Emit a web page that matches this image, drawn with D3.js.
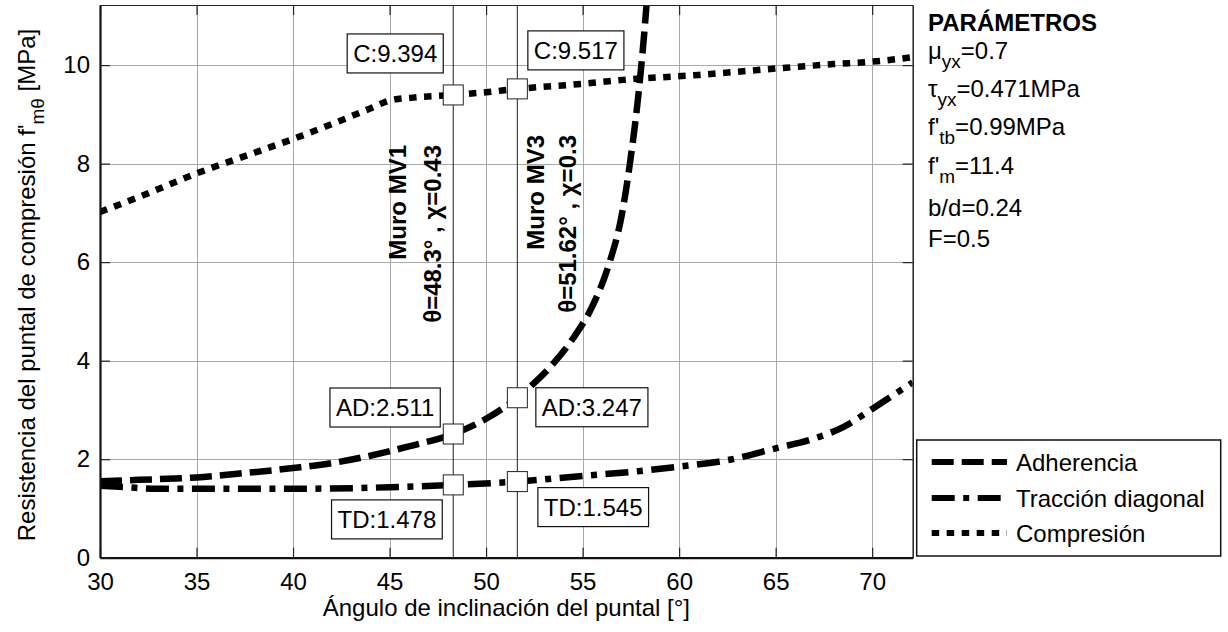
<!DOCTYPE html>
<html><head><meta charset="utf-8">
<script src="https://cdn.jsdelivr.net/npm/d3@7"></script>
<style>
body{margin:0;background:#fff}
text{font-family:"Liberation Sans",Arial,Helvetica,sans-serif;fill:#000}
</style>
</head><body>
<svg id="c" width="1228" height="632"></svg>
<script>
// ---------- data ----------
const xTicks=[30,35,40,45,50,55,60,65,70];
const yTicks=[0,2,4,6,8,10];
const xDomain=[30,72.1];
const yDomain=[0,11.22];

const angAdh=[30,32,35,37,40,42,44,46,48.3,50,51.62,52.5,53.5,54.5,55.5,56.4,57,57.45,57.97,58.31,58.45];
const valAdh=[1.55,1.58,1.63,1.7,1.82,1.92,2.07,2.26,2.511,2.82,3.247,3.55,3.95,4.45,5.1,6.0,6.9,8.0,9.7,11.22,12.0];

const angTD=[30,31,33,35,40,45,48.3,51.62,55,58,60,62.5,65,67,68.5,70,72.1];
const valTD=[1.46,1.44,1.4,1.4,1.4,1.43,1.478,1.545,1.66,1.76,1.85,1.98,2.22,2.42,2.65,3.02,3.56];

const angC=[30,32,35,38,40,42,44,45,46.2,48.3,50,51.62,55,57.1,61,65,68,70,72.1];
const valC=[7.02,7.32,7.8,8.22,8.5,8.8,9.12,9.28,9.34,9.394,9.45,9.517,9.62,9.70,9.80,9.93,10.02,10.07,10.16];

const seriesNames=["Adherencia","Tracción diagonal","Compresión"];

const wallAngles=[48.3,51.62];
const wallNames=["Muro MV1","Muro MV3"];
const wallInfo=["θ=48.3° , χ=0.43","θ=51.62° , χ=0.3"];

const tipAngles=[48.3,51.62,48.3,51.62,48.3,51.62];
const tipValues=[9.394,9.517,2.511,3.247,1.478,1.545];
const tipPrefix=["C","C","AD","AD","TD","TD"];

const paramTitle="PARÁMETROS";
const paramMain=["μ","τ","f'","f'","b/d","F"];
const paramSub=["yx","yx","tb","m","",""];
const paramVal=["=0.7","=0.471MPa","=0.99MPa","=11.4","=0.24","=0.5"];

// ---------- layout ----------
const M={l:100,r:912.7,t:5,b:557.7};
const FS=24;
const svg=d3.select("#c");
const x=d3.scaleLinear().domain(xDomain).range([M.l,M.r]);
const y=d3.scaleLinear().domain(yDomain).range([M.b,M.t]);

svg.append("defs").append("clipPath").attr("id","clip")
  .append("rect").attr("x",M.l).attr("y",M.t).attr("width",M.r-M.l).attr("height",M.b-M.t);

// grid
const g=svg.append("g");
g.append("g").attr("transform",`translate(0,${M.b})`)
  .call(d3.axisBottom(x).tickValues(xTicks).tickSize(-(M.b-M.t)).tickFormat(""))
  .call(s=>{s.select(".domain").remove();s.selectAll("line").attr("stroke","#a8a8a8").attr("stroke-width",1).attr("shape-rendering","crispEdges");});
g.append("g").attr("transform",`translate(${M.l},0)`)
  .call(d3.axisLeft(y).tickValues(yTicks).tickSize(-(M.r-M.l)).tickFormat(""))
  .call(s=>{s.select(".domain").remove();s.selectAll("line").attr("stroke","#a8a8a8").attr("stroke-width",1).attr("shape-rendering","crispEdges");});

// wall lines
g.selectAll(".wall").data(wallAngles).join("line")
  .attr("x1",d=>x(d)).attr("x2",d=>x(d)).attr("y1",M.t).attr("y2",M.b)
  .attr("stroke","#333").attr("stroke-width",1.1);

// wall labels
const wallNameDx=[-47,27], wallInfoDx=[-12,59], wallTop=[145,135];
wallAngles.forEach((a,i)=>{
  const px=x(a);
  svg.append("text").attr("transform",`translate(${px+wallNameDx[i]},${wallTop[i]}) rotate(-90)`)
    .attr("text-anchor","end").attr("font-size",FS).attr("font-weight","bold").text(wallNames[i]);
  svg.append("text").attr("transform",`translate(${px+wallInfoDx[i]},${wallTop[i]}) rotate(-90)`)
    .attr("text-anchor","end").attr("font-size",FS).attr("font-weight","bold").text(wallInfo[i]);
});

// curves
const line=d3.line().x(d=>x(d[0])).y(d=>y(d[1])).curve(d3.curveMonotoneX);
const series=[
  {pts:d3.zip(angAdh,valAdh),dash:"22,8"},
  {pts:d3.zip(angTD,valTD),dash:"23,8.5,6,8.5"},
  {pts:d3.zip(angC,valC),dash:"7.5,7.5"}
];
const SW=6.5;
const cg=svg.append("g").attr("clip-path","url(#clip)");
series.forEach(s=>{
  cg.append("path").attr("d",line(s.pts)).attr("fill","none").attr("stroke","#000")
    .attr("stroke-width",SW).attr("stroke-dasharray",s.dash).attr("stroke-linecap","butt");
});

// axes frame
function styleAxis(s){s.selectAll("text").attr("font-size",FS).attr("font-family",'"Liberation Sans",Arial,sans-serif').attr("fill","#000");
  s.selectAll(".tick line").attr("stroke","#222").attr("stroke-width",1.2);}
svg.append("g").attr("transform",`translate(0,${M.t})`)
  .call(d3.axisTop(x).tickValues(xTicks).tickSizeInner(-10).tickSizeOuter(0).tickFormat(""))
  .call(styleAxis).call(s=>s.select(".domain").attr("stroke","#222").attr("stroke-width",1.2));
svg.append("g").attr("transform",`translate(${M.r},0)`)
  .call(d3.axisRight(y).tickValues(yTicks).tickSizeInner(-10).tickSizeOuter(0).tickFormat(""))
  .call(styleAxis).call(s=>s.select(".domain").attr("stroke","#222").attr("stroke-width",1.5));
svg.append("g").attr("transform",`translate(0,${M.b})`)
  .call(d3.axisBottom(x).tickValues(xTicks).tickSizeInner(-10).tickSizeOuter(0).tickPadding(15))
  .call(styleAxis).call(s=>s.select(".domain").attr("stroke","#111").attr("stroke-width",2.2));
svg.append("g").attr("transform",`translate(${M.l},0)`)
  .call(d3.axisLeft(y).tickValues(yTicks).tickSizeInner(-10).tickSizeOuter(0).tickPadding(10))
  .call(styleAxis).call(s=>s.select(".domain").attr("stroke","#111").attr("stroke-width",2.2));

// markers and data tips
const tipSide=["L","R","L","R","L","R"];
const tipGap=[10,10.5,13,18.5,11,20.5];
const tipTop=[-61,-58,-46,-10,15,6];
const BH=39,PAD=6;
tipAngles.forEach((a,i)=>{
  const px=x(a),py=y(tipValues[i]);
  svg.append("rect").attr("x",px-10).attr("y",py-10).attr("width",20).attr("height",20)
    .attr("fill","#fff").attr("stroke","#222").attr("stroke-width",1);
  const grp=svg.append("g");
  const r=grp.append("rect").attr("fill","#fff").attr("stroke","#111").attr("stroke-width",1.2);
  const t=grp.append("text").attr("font-size",FS).attr("text-anchor","middle")
    .text(tipPrefix[i]+":"+tipValues[i].toFixed(3));
  const w=t.node().getComputedTextLength()+2*PAD;
  const bx=tipSide[i]==="L"?px-tipGap[i]-w:px+tipGap[i];
  const by=py+tipTop[i];
  r.attr("x",bx).attr("y",by).attr("width",w).attr("height",BH);
  t.attr("x",bx+w/2).attr("y",by+BH/2+8.5);
});

// axis titles
svg.append("text").attr("x",(M.l+M.r)/2).attr("y",616).attr("text-anchor","middle")
  .attr("font-size",FS).text("Ángulo de inclinación del puntal [°]");
const yl=svg.append("text").attr("transform",`translate(35,285) rotate(-90)`).attr("text-anchor","middle").attr("font-size",FS);
yl.append("tspan").text("Resistencia del puntal de compresión f'");
yl.append("tspan").attr("font-size",19).attr("dy",9).text("mθ");
yl.append("tspan").attr("font-size",FS).attr("dy",-9).text(" [MPa]");

// parameters
const PX=928;
svg.append("text").attr("x",PX).attr("y",31).attr("font-size",FS).attr("font-weight","bold").text(paramTitle);
const pBase=[59,97,135,174,216,247];
paramMain.forEach((m,i)=>{
  const t=svg.append("text").attr("x",PX).attr("y",pBase[i]).attr("font-size",FS);
  t.append("tspan").text(m);
  if(paramSub[i]){
    t.append("tspan").attr("font-size",19).attr("dy",9).text(paramSub[i]);
    t.append("tspan").attr("font-size",FS).attr("dy",-9).text(paramVal[i]);
  } else t.append("tspan").text(paramVal[i]);
});

// legend
const LX=916.7,LY=440,LW=304,LH=116;
svg.append("rect").attr("x",LX).attr("y",LY).attr("width",LW).attr("height",LH)
  .attr("fill","#fff").attr("stroke","#111").attr("stroke-width",1.5);
const rowY=[462,498,533];
seriesNames.forEach((n,i)=>{
  svg.append("line").attr("x1",931.7).attr("x2",1007).attr("y1",rowY[i]).attr("y2",rowY[i])
    .attr("stroke","#000").attr("stroke-width",6).attr("stroke-dasharray",series[i].dash);
  svg.append("text").attr("x",1016).attr("y",rowY[i]+8.5).attr("font-size",FS).text(n);
});
</script>
</body></html>
